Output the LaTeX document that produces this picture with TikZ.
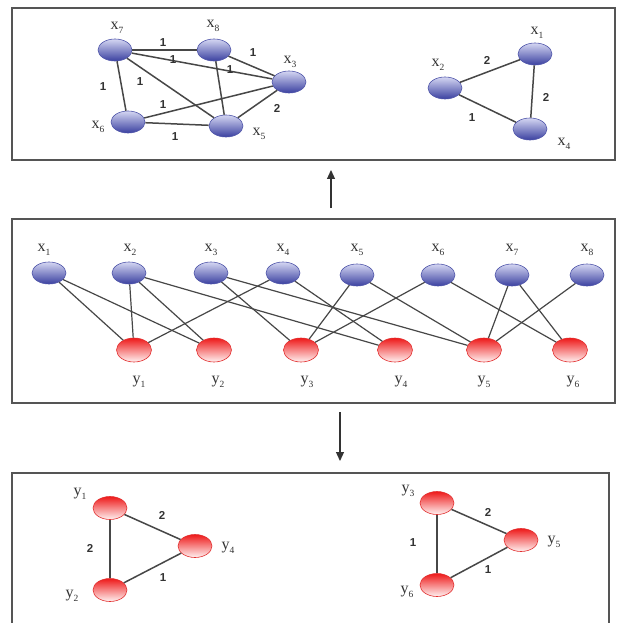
\documentclass[tikz,border=0pt]{standalone}
\usepackage{fontspec}
\setmainfont{Liberation Serif}
\newfontfamily\numfont{Liberation Sans}
\usetikzlibrary{shapes.geometric,arrows.meta}
\definecolor{framecol}{HTML}{555555}
\definecolor{edgecol}{HTML}{474747}
\definecolor{txtcol}{HTML}{333333}
\definecolor{bluetop}{HTML}{D4D6F2}
\definecolor{bluemid}{HTML}{8C91D4}
\definecolor{bluebot}{HTML}{3A40A0}
\definecolor{blueedge}{HTML}{5056AA}
\definecolor{redtop}{HTML}{EE1A1A}
\definecolor{redmid}{HTML}{F77A7A}
\definecolor{redbot}{HTML}{FFF2F2}
\definecolor{rededge}{HTML}{E23030}
\newcommand{\nlab}[2]{#1\raisebox{-0.28em}{\fontsize{9.5}{9.5}\selectfont #2}}
\begin{document}
\begin{tikzpicture}[x=1pt,y=-1pt,
  xnode/.style={ellipse, minimum width=34pt, minimum height=22pt, inner sep=0pt,
    top color=bluetop, middle color=bluemid, bottom color=bluebot, draw=blueedge, line width=0.6pt},
  ynode/.style={ellipse, minimum width=35pt, minimum height=24pt, inner sep=0pt,
    top color=redtop, middle color=redmid, bottom color=redbot, draw=rededge, line width=0.6pt},
  lbl/.style={font=\fontsize{16}{16}\selectfont, text=txtcol, inner sep=0pt},
  wt/.style={font=\numfont\bfseries\fontsize{11.5}{11.5}\selectfont, text=txtcol, inner sep=0pt},
  link/.style={draw=edgecol, line width=1.2pt},
  tlink/.style={draw=edgecol, line width=1.5pt},
  boxline/.style={draw=framecol, line width=1.3pt},
  arr/.style={draw=black!80, line width=1.2pt, -{Triangle[width=8pt,length=9pt]}}]
\useasboundingbox (0,0) rectangle (624,623);
\fill[white] (0,0) rectangle (624,623);

% frames
\draw[boxline] (12,8) rectangle (615,160);
\draw[boxline] (12,219) rectangle (615,403);
\draw[boxline] (12,625) -- (12,473) -- (609,473) -- (609,625);

% arrows
\coordinate (u1) at (331,208);
\coordinate (u2) at (331,170);
\coordinate (d1) at (340,412);
\coordinate (d2) at (340,461);
\draw[arr] (u1) -- (u2);
\draw[arr] (d1) -- (d2);

% ---------- top-left graph ----------
\node[xnode] (t7) at (115,50) {};
\node[xnode] (t8) at (214,50) {};
\node[xnode] (t3) at (289,82) {};
\node[xnode] (t6) at (128,122) {};
\node[xnode] (t5) at (226,126) {};
\node[lbl] (lt7) at (117,28) {\nlab{x}{7}};
\node[lbl] (lt8) at (213,26) {\nlab{x}{8}};
\node[lbl] (lt3) at (290,62) {\nlab{x}{3}};
\node[lbl] (lt6) at (98,127) {\nlab{x}{6}};
\node[lbl] (lt5) at (259,134) {\nlab{x}{5}};
\draw[tlink] (t7) -- (t8);
\draw[tlink] (t7) -- (t3);
\draw[tlink] (t7) -- (t5);
\draw[tlink] (t7) -- (t6);
\draw[tlink] (t8) -- (t3);
\draw[tlink] (t8) -- (t5);
\draw[tlink] (t6) -- (t3);
\draw[tlink] (t6) -- (t5);
\draw[tlink] (t5) -- (t3);
\node[wt] (w1) at (163,43) {1};
\node[wt] (w2) at (173,60) {1};
\node[wt] (w3) at (253,53) {1};
\node[wt] (w4) at (230,70) {1};
\node[wt] (w5) at (103,87) {1};
\node[wt] (w6) at (140,82) {1};
\node[wt] (w7) at (163,105) {1};
\node[wt] (w8) at (277,108) {2};
\node[wt] (w9) at (175,137) {1};

% ---------- top-right graph ----------
\node[xnode] (t2) at (445,88) {};
\node[xnode] (t1) at (535,54) {};
\node[xnode] (t4) at (530,129) {};
\node[lbl] (lt2) at (438,65) {\nlab{x}{2}};
\node[lbl] (lt1) at (537,33) {\nlab{x}{1}};
\node[lbl] (lt4) at (564,144) {\nlab{x}{4}};
\draw[tlink] (t2) -- (t1);
\draw[tlink] (t1) -- (t4);
\draw[tlink] (t2) -- (t4);
\node[wt] (w10) at (487,60) {2};
\node[wt] (w11) at (546,97) {2};
\node[wt] (w12) at (472,118) {1};

% ---------- middle bipartite graph ----------
\node[xnode] (m1) at (49,273) {};
\node[xnode] (m2) at (129,273) {};
\node[xnode] (m3) at (211,273) {};
\node[xnode] (m4) at (283,273) {};
\node[xnode] (m5) at (357,275) {};
\node[xnode] (m6) at (438,275) {};
\node[xnode] (m7) at (512,275) {};
\node[xnode] (m8) at (587,275) {};
\node[ynode] (n1) at (134,350) {};
\node[ynode] (n2) at (214,350) {};
\node[ynode] (n3) at (301,350) {};
\node[ynode] (n4) at (395,350) {};
\node[ynode] (n5) at (484,350) {};
\node[ynode] (n6) at (570,350) {};
\foreach \i/\xx in {1/44,2/130,3/211,4/283,5/357,6/438,7/512,8/587}
  \node[lbl] (lm\i) at (\xx,250) {\nlab{x}{\i}};
\foreach \i/\xx in {1/139,2/218,3/307,4/401,5/484,6/573}
  \node[lbl] (ln\i) at (\xx,382) {\nlab{y}{\i}};
\draw[link] (m1) -- (n1);
\draw[link] (m1) -- (n2);
\draw[link] (m2) -- (n1);
\draw[link] (m2) -- (n2);
\draw[link] (m2) -- (n4);
\draw[link] (m4) -- (n1);
\draw[link] (m4) -- (n4);
\draw[link] (m3) -- (n3);
\draw[link] (m3) -- (n5);
\draw[link] (m5) -- (n3);
\draw[link] (m5) -- (n5);
\draw[link] (m6) -- (n3);
\draw[link] (m6) -- (n6);
\draw[link] (m7) -- (n5);
\draw[link] (m7) -- (n6);
\draw[link] (m8) -- (n5);

% ---------- bottom graphs ----------
\node[ynode, minimum height=23pt, minimum width=34pt] (b1) at (110,508) {};
\node[ynode, minimum height=23pt, minimum width=34pt] (b4) at (195,546) {};
\node[ynode, minimum height=23pt, minimum width=34pt] (b2) at (110,590) {};
\node[lbl] (lb1) at (80,494) {\nlab{y}{1}};
\node[lbl] (lb4) at (228,548) {\nlab{y}{4}};
\node[lbl] (lb2) at (72,596) {\nlab{y}{2}};
\draw[tlink] (b1) -- (b4);
\draw[tlink] (b1) -- (b2);
\draw[tlink] (b2) -- (b4);
\node[wt] (w13) at (162,515) {2};
\node[wt] (w14) at (90,548) {2};
\node[wt] (w15) at (163,578) {1};

\node[ynode, minimum height=23pt, minimum width=34pt] (b3) at (437,503) {};
\node[ynode, minimum height=23pt, minimum width=34pt] (b5) at (521,540) {};
\node[ynode, minimum height=23pt, minimum width=34pt] (b6) at (437,585) {};
\node[lbl] (lb3) at (408,491) {\nlab{y}{3}};
\node[lbl] (lb5) at (554,542) {\nlab{y}{5}};
\node[lbl] (lb6) at (407,592) {\nlab{y}{6}};
\draw[tlink] (b3) -- (b5);
\draw[tlink] (b3) -- (b6);
\draw[tlink] (b6) -- (b5);
\node[wt] (w16) at (488,512) {2};
\node[wt] (w17) at (413,543) {1};
\node[wt] (w18) at (488,570) {1};
\end{tikzpicture}
\end{document}
